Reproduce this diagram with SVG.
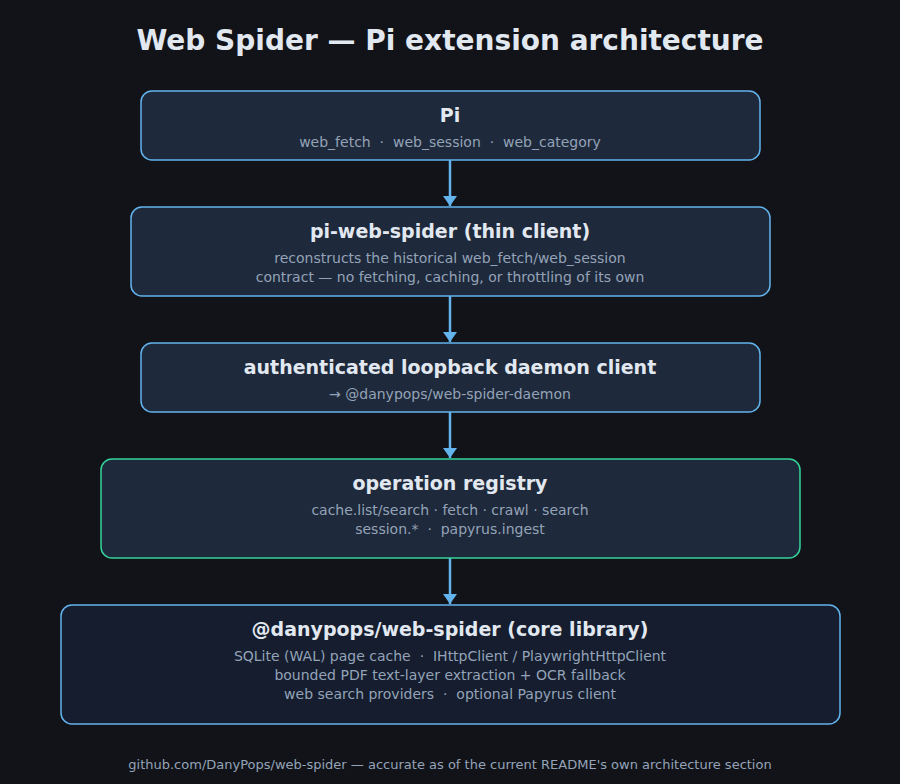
<svg xmlns="http://www.w3.org/2000/svg" width="900" height="784" viewBox="0 0 900 784">
<style>
text{font-family:"DejaVu Sans","Noto Sans",sans-serif;text-anchor:middle}
.t{font-size:19px;font-weight:bold;fill:#e2e8f0}
.s{font-size:14px;fill:#94a3b8}
.b{fill:#1e293b;stroke:#63b3ed;stroke-width:1.5}
.c{stroke:#63b3ed;stroke-width:2.5;fill:none}
</style>
<defs><marker id="ah" viewBox="0 0 10 14" refX="10" refY="7" markerWidth="10" markerHeight="14" orient="auto" markerUnits="userSpaceOnUse"><path d="M0,0L10,7L0,14z" fill="#63b3ed"/></marker></defs>
<rect width="900" height="784" fill="#111318"/>
<text x="450" y="50" style="font-size:28px;font-weight:bold;fill:#e2e8f0">Web Spider — Pi extension architecture</text>
<g id="connectors">
<line class="c" x1="450" y1="160" x2="450" y2="206" marker-end="url(#ah)"/>
<line class="c" x1="450" y1="296" x2="450" y2="342" marker-end="url(#ah)"/>
<line class="c" x1="450" y1="412" x2="450" y2="458" marker-end="url(#ah)"/>
<line class="c" x1="450" y1="558" x2="450" y2="604" marker-end="url(#ah)"/>
</g>
<g id="pi"><rect class="b" x="141" y="91" width="619" height="69" rx="11"/>
<text class="t" x="450" y="122">Pi</text><text class="s" x="450" y="147" xml:space="preserve">web_fetch  ·  web_session  ·  web_category</text></g>
<g id="client"><rect class="b" x="131" y="207" width="639" height="89" rx="11"/>
<text class="t" x="450" y="238">pi-web-spider (thin client)</text>
<text class="s" x="450" y="263">reconstructs the historical web_fetch/web_session</text>
<text class="s" x="450" y="282">contract — no fetching, caching, or throttling of its own</text></g>
<g id="daemon"><rect class="b" x="141" y="343" width="619" height="69" rx="11"/>
<text class="t" x="450" y="374">authenticated loopback daemon client</text>
<text class="s" x="450" y="399">→ @danypops/web-spider-daemon</text></g>
<g id="registry"><rect class="b" x="101" y="459" width="699" height="99" rx="11" style="stroke:#34d399"/>
<text class="t" x="450" y="490">operation registry</text>
<text class="s" x="450" y="515">cache.list/search · fetch · crawl · search</text>
<text class="s" x="450" y="534" xml:space="preserve">session.*  ·  papyrus.ingest</text></g>
<g id="core"><rect class="b" x="61" y="605" width="779" height="119" rx="11" style="fill:#151d2e"/>
<text class="t" x="450" y="636">@danypops/web-spider (core library)</text>
<text class="s" x="450" y="661" xml:space="preserve">SQLite (WAL) page cache  ·  IHttpClient / PlaywrightHttpClient</text>
<text class="s" x="450" y="680">bounded PDF text-layer extraction + OCR fallback</text>
<text class="s" x="450" y="699" xml:space="preserve">web search providers  ·  optional Papyrus client</text></g>
<text x="450" y="769" style="font-size:13px;fill:#94a3b8">github.com/DanyPops/web-spider — accurate as of the current README's own architecture section</text>
</svg>
